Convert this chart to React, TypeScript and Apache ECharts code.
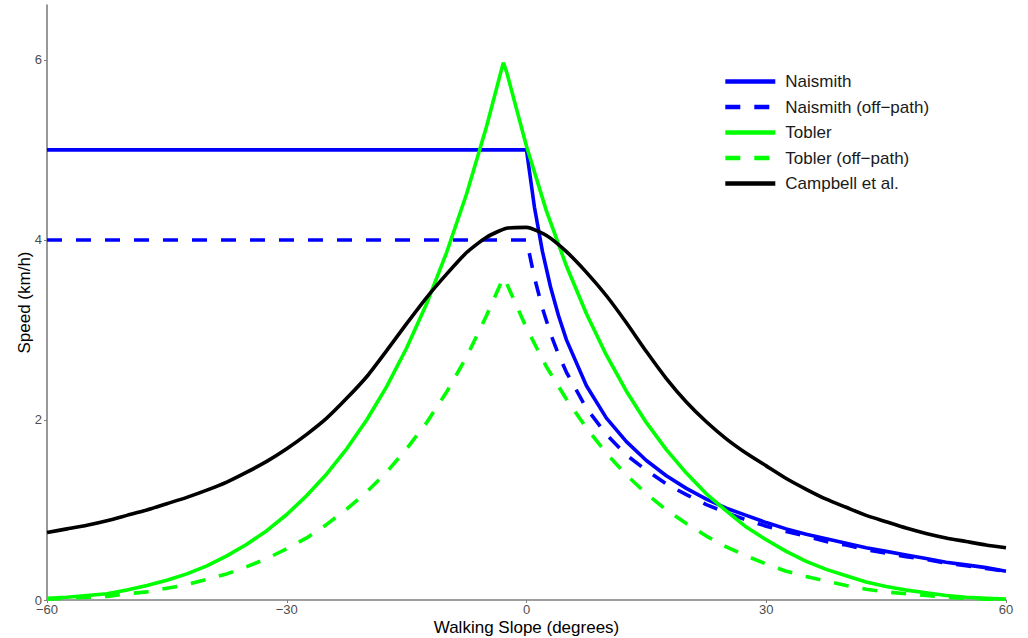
import React, { useEffect, useRef } from "react";
import * as echarts from "echarts";

const xTicks = [-60, -30, 0, 30, 60];
const yTicks = [0, 2, 4, 6];

const slopeTobler = [
  -60, -57.5, -55, -52.5, -50, -47.5, -45, -42.5, -40, -37.5, -35, -32.5, -30, -27.5, -25, -22.5,
  -20, -17.5, -15, -12.5, -10, -7.5, -5, -2.9, -2.5, 0, 2.5, 5, 7.5, 10, 12.5, 15, 17.5, 20, 22.5,
  25, 27.5, 30, 32.5, 35, 37.5, 40, 42.5, 45, 47.5, 50, 52.5, 55, 57.5, 60,
];
const toblerSpeed = [
  0.02, 0.03, 0.05, 0.07, 0.11, 0.16, 0.22, 0.29, 0.38, 0.49, 0.62, 0.77, 0.95, 1.16, 1.4, 1.68,
  2.0, 2.37, 2.8, 3.29, 3.86, 4.51, 5.26, 5.97, 5.87, 5.04, 4.32, 3.71, 3.18, 2.72, 2.32, 1.97,
  1.67, 1.41, 1.18, 0.99, 0.81, 0.67, 0.54, 0.43, 0.34, 0.27, 0.2, 0.15, 0.11, 0.08, 0.05, 0.03,
  0.02, 0.01,
];
const toblerOffSpeed = [
  0.01, 0.02, 0.03, 0.04, 0.07, 0.09, 0.13, 0.17, 0.23, 0.29, 0.37, 0.46, 0.57, 0.69, 0.84, 1.01,
  1.2, 1.42, 1.68, 1.97, 2.31, 2.7, 3.16, 3.58, 3.52, 3.02, 2.59, 2.23, 1.91, 1.63, 1.39, 1.18,
  1.0, 0.85, 0.71, 0.59, 0.49, 0.4, 0.32, 0.26, 0.21, 0.16, 0.12, 0.09, 0.07, 0.05, 0.03, 0.02,
  0.01, 0.01,
];

const slopeNaismith = [
  -60, 0, 1, 2, 3, 4, 5, 7.5, 10, 12.5, 15, 17.5, 20, 22.5, 25, 27.5, 30, 32.5, 35, 37.5, 40,
  42.5, 45, 47.5, 50, 52.5, 55, 57.5, 60,
];
const naismithSpeed = [
  5, 5, 4.36, 3.87, 3.48, 3.16, 2.89, 2.38, 2.02, 1.76, 1.55, 1.38, 1.24, 1.12, 1.02, 0.94, 0.86,
  0.79, 0.73, 0.68, 0.63, 0.58, 0.54, 0.5, 0.46, 0.42, 0.39, 0.36, 0.32,
];
const naismithOffSpeed = [
  4, 4, 3.58, 3.24, 2.96, 2.73, 2.53, 2.13, 1.84, 1.61, 1.44, 1.29, 1.17, 1.06, 0.97, 0.89, 0.82,
  0.76, 0.71, 0.65, 0.61, 0.56, 0.52, 0.48, 0.45, 0.41, 0.38, 0.35, 0.32,
];

const slopeCampbell = [
  -60, -57.5, -55, -52.5, -50, -47.5, -45, -42.5, -40, -37.5, -35, -32.5, -30, -27.5, -25, -22.5,
  -20, -17.5, -15, -12.5, -10, -7.5, -5, -2.5, 0, 2.5, 5, 7.5, 10, 12.5, 15, 17.5, 20, 22.5, 25,
  27.5, 30, 32.5, 35, 37.5, 40, 42.5, 45, 47.5, 50, 52.5, 55, 57.5, 60,
];
const campbellSpeed = [
  0.75, 0.79, 0.83, 0.88, 0.94, 1.0, 1.07, 1.14, 1.22, 1.31, 1.42, 1.54, 1.68, 1.84, 2.02, 2.24,
  2.48, 2.77, 3.07, 3.36, 3.62, 3.86, 4.03, 4.13, 4.14, 4.05, 3.87, 3.64, 3.38, 3.08, 2.76, 2.46,
  2.2, 1.98, 1.79, 1.63, 1.49, 1.35, 1.23, 1.12, 1.03, 0.94, 0.87, 0.8, 0.74, 0.69, 0.65, 0.61,
  0.58,
];

const seriesNames = [
  "Naismith",
  "Naismith (off\u2212path)",
  "Tobler",
  "Tobler (off\u2212path)",
  "Campbell et al.",
];

const zip = (xs: number[], ys: number[]) => xs.map((x, i) => [x, ys[i]]);

export default function App() {
  const ref = useRef<HTMLDivElement>(null);
  useEffect(() => {
    if (!ref.current) return;
    const chart = echarts.init(ref.current, null, { renderer: "svg" });
    const fontFamily = "'Liberation Sans', Arial, sans-serif";
    const dash = [15, 14];
    const mk = (name: string, data: number[][], color: string, dashed: boolean, smooth = false) => ({
      name,
      type: "line",
      data,
      symbol: "none",
      smooth: smooth ? 0.2 : false,
      lineStyle: { color, width: 3.6, type: dashed ? dash : "solid", cap: "butt" },
      itemStyle: { color },
      z: 2,
    });
    chart.setOption({
      animation: false,
      backgroundColor: "#ffffff",
      textStyle: { fontFamily },
      grid: {
        left: 47,
        right: 22,
        top: 5,
        bottom: 38,
        containLabel: false,
        outerBoundsMode: "none",
      },
      legend: {
        orient: "vertical",
        left: 723,
        top: 73,
        padding: 0,
        itemWidth: 50,
        itemHeight: 14,
        itemGap: 8.5,
        itemStyle: { opacity: 0 },
        lineStyle: { width: 4.6 },
        textStyle: { fontSize: 17, color: "#1a1a1a", fontFamily, padding: [0, 0, 0, 5] },
        data: seriesNames,
      },
      xAxis: {
        type: "value",
        min: -60,
        max: 60,
        interval: 30,
        name: "Walking Slope (degrees)",
        nameLocation: "middle",
        nameGap: 19,
        nameMoveOverlap: false,
        nameTextStyle: { fontSize: 17, color: "#000000", fontFamily },
        axisLine: { show: true, onZero: false, lineStyle: { color: "#7f7f7f", width: 1.6 } },
        axisTick: { show: true, length: 3, lineStyle: { color: "#7f7f7f", width: 1 }, customValues: xTicks },
        axisLabel: {
          fontSize: 13,
          color: "#4d4d4d",
          margin: 3,
          customValues: xTicks,
          formatter: (v: number) => String(v).replace("-", "\u2212"),
        },
        splitLine: { show: false },
      },
      yAxis: {
        type: "value",
        min: 0,
        max: 6.61,
        interval: 2,
        name: "Speed (km/h)",
        nameLocation: "middle",
        nameGap: 14,
        nameMoveOverlap: false,
        nameTextStyle: { fontSize: 17, color: "#000000", fontFamily },
        axisLine: { show: true, onZero: false, lineStyle: { color: "#7f7f7f", width: 1.6 } },
        axisTick: { show: true, length: 3, lineStyle: { color: "#7f7f7f", width: 1 }, customValues: yTicks },
        axisLabel: { fontSize: 13, color: "#4d4d4d", margin: 5, customValues: yTicks },
        splitLine: { show: false },
      },
      series: [
        mk(seriesNames[0], zip(slopeNaismith, naismithSpeed), "#0000ff", false),
        mk(seriesNames[1], zip(slopeNaismith, naismithOffSpeed), "#0000ff", true),
        mk(seriesNames[2], zip(slopeTobler, toblerSpeed), "#00ff00", false),
        mk(seriesNames[3], zip(slopeTobler, toblerOffSpeed), "#00ff00", true),
        mk(seriesNames[4], zip(slopeCampbell, campbellSpeed), "#000000", false, true),
      ],
    });
    return () => chart.dispose();
  }, []);
  return (
    <div
      ref={ref}
      style={{ position: "fixed", left: 0, top: 0, width: 1028, height: 638, background: "#fff" }}
    />
  );
}
